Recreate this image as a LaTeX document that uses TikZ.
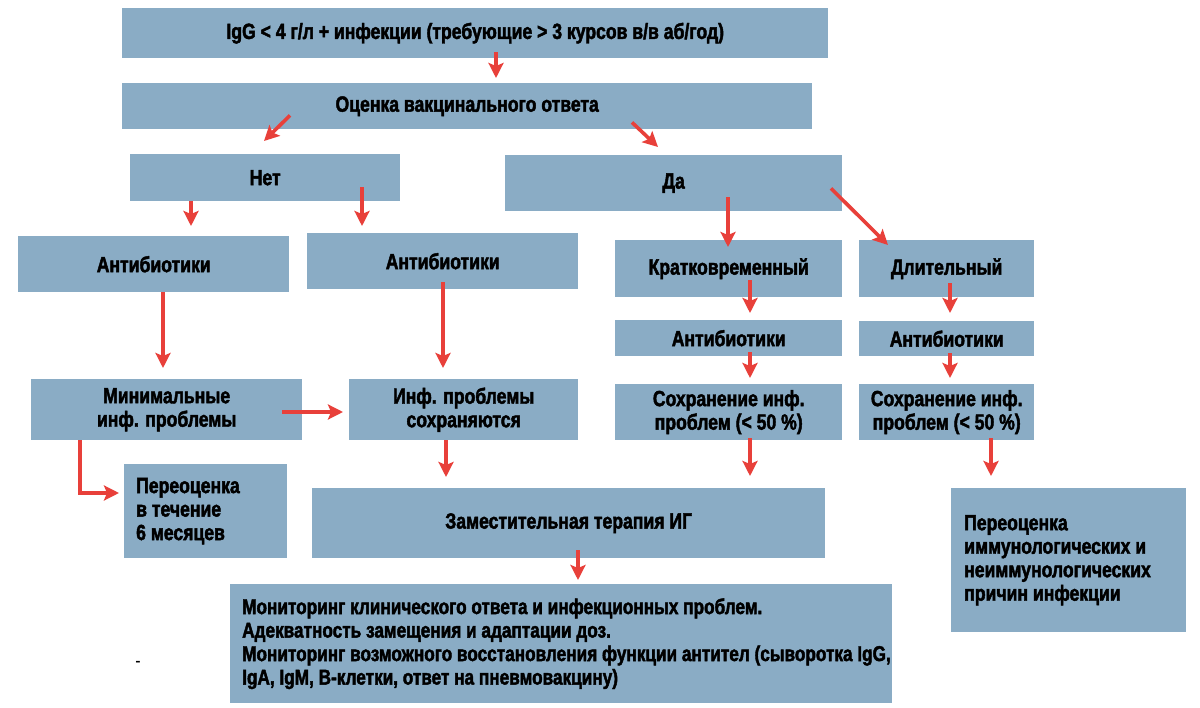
\documentclass[tikz,border=0pt]{standalone}
\usepackage{fontspec}
\setmainfont{Liberation Sans}[FakeStretch=0.8, BoldFeatures={FakeBold=2}]
\usetikzlibrary{arrows.meta,calc}
\definecolor{boxc}{RGB}{138,172,197}
\definecolor{arrc}{RGB}{232,64,58}
\newcommand\normsp{\spaceskip=0pt\xspaceskip=0pt\relax}
\tikzset{
  box/.style={fill=boxc, draw=none, anchor=north west, inner sep=0pt,
    font=\bfseries\fontsize{22}{23.5}\selectfont, align=center},
  lbox/.style={box, align=left},
  arr/.style={draw=arrc, line width=3.6pt,
    -{Stealth[length=15pt,width=15pt,inset=3pt]}},
}
\begin{document}
\begin{tikzpicture}[x=1pt,y=-1pt]
\useasboundingbox[fill=white] (0,0) rectangle (1200,708);
% boxes
\node[box, minimum width=706pt, minimum height=50pt] (t) at (122,8)
  {IgG < 4 г/л + инфекции (требующие > 3 курсов в/в аб/год)};
\node[box, minimum width=690pt, minimum height=46pt] (e) at (122,83)
  {Оценка вакцинального ответа};
\node[box, minimum width=270pt, minimum height=47pt] (no) at (130,154) {Нет};
\node[box, minimum width=337pt, minimum height=56pt] (yes) at (505,155) {Да};
\node[box, minimum width=271pt, minimum height=56pt] (ab1) at (18,236) {Антибиотики};
\node[box, minimum width=271pt, minimum height=56pt] (ab2) at (307,233) {Антибиотики};
\node[box, minimum width=271pt, minimum height=61pt] (min) at (31,379)
  {Минимальные\\инф. проблемы};
\node[box, minimum width=229pt, minimum height=61pt] (inf) at (349,379)
  {Инф. проблемы\\сохраняются};
\node[lbox, text width=139pt, inner xsep=12pt, minimum height=94pt] (re6) at (124,464)
  {\normsp Переоценка\\в течение\\6 месяцев};
\node[box, minimum width=513pt, minimum height=70pt] (zam) at (312,488)
  {Заместительная терапия ИГ};
\node[lbox, text width=638pt, inner xsep=12pt, minimum height=119pt,
      font=\bfseries\fontsize{21.5}{23.5}\selectfont] (mon) at (230,584)
  {\normsp\mbox{Мониторинг клинического ответа и инфекционных проблем.}\\
   \mbox{Адекватность замещения и адаптации доз.}\\
   \mbox{Мониторинг возможного восстановления функции антител (сыворотка IgG,}\\
   \mbox{IgA, IgM, B-клетки, ответ на пневмовакцину)}};
\node[box, minimum width=227pt, minimum height=57pt] (kr) at (615,240) {Кратковременный};
\node[box, minimum width=175pt, minimum height=57pt] (dl) at (859,240) {Длительный};
\node[box, minimum width=227pt, minimum height=36pt] (ab3) at (615,320) {Антибиотики};
\node[box, minimum width=175pt, minimum height=35pt] (ab4) at (859,321) {Антибиотики};
\node[box, minimum width=227pt, minimum height=56pt] (s1) at (615,384)
  {Сохранение инф.\\проблем (< 50 \%)};
\node[box, minimum width=175pt, minimum height=56pt] (s2) at (859,384)
  {Сохранение инф.\\проблем (< 50 \%)};
\node[lbox, text width=209pt, inner xsep=13pt, minimum height=144pt] (reimm) at (951,488)
  {\normsp Переоценка\\иммунологических и\\неиммунологических\\причин инфекции};
\node[font=\fontsize{20}{22}\selectfont, inner sep=0pt] (dash) at (138,664) {-};
% arrows
\draw[arr] ($(t.south west)+(374,-6)$) -- ($(e.north west)+(374,-5)$);
\draw[arr] ($(e.south west)+(168,-14)$) -- ($(no.north west)+(134,-13)$);
\draw[arr] ($(e.south west)+(510,-7)$) -- ($(yes.north west)+(153,-8)$);
\draw[arr] ($(no.south west)+(61,0)$) -- ($(ab1.north west)+(173,-10)$);
\draw[arr] ($(no.south west)+(232,-14)$) -- ($(ab2.north west)+(55,-7)$);
\draw[arr] ($(ab1.south west)+(145,0)$) -- ($(min.north west)+(132,-11)$);
\draw[arr] ($(ab2.south west)+(136,-7)$) -- ($(inf.north west)+(94,-11)$);
\draw[arr] ($(min.north west)+(251,33)$) -- ($(inf.north west)+(-6,33)$);
\draw[arr] ($(min.south west)+(49,0)$) |- ($(re6.north west)+(-5,29)$);
\draw[arr] ($(inf.south west)+(97,0)$) -- ($(zam.north west)+(134,-11)$);
\draw[arr] ($(yes.south west)+(223,-14)$) -- ($(kr.north west)+(113,7)$);
\draw[arr] ($(yes.south west)+(326,-23)$) -- ($(dl.north west)+(29,5)$);
\draw[arr] ($(kr.south west)+(135,-17)$) -- ($(ab3.north west)+(135,-7)$);
\draw[arr] ($(dl.south west)+(91,-14)$) -- ($(ab4.north west)+(91,-8)$);
\draw[arr] ($(ab3.south west)+(135,-4)$) -- ($(s1.north west)+(135,-6)$);
\draw[arr] ($(ab4.south west)+(91,-3)$) -- ($(s2.north west)+(91,-6)$);
\draw[arr] ($(s1.south west)+(135,-2)$) -- ($(zam.north west)+(438,-12)$);
\draw[arr] ($(s2.south west)+(132,-2)$) -- ($(reimm.north west)+(40,-12)$);
\draw[arr] ($(zam.south west)+(266,-8)$) -- ($(mon.north west)+(348,-4)$);
\end{tikzpicture}
\end{document}
